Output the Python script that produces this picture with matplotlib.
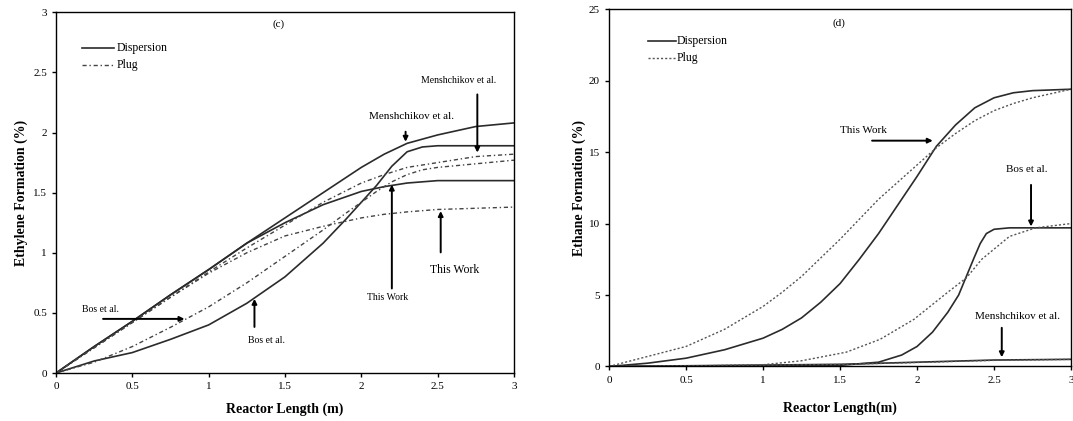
import matplotlib
matplotlib.use('Agg')
import matplotlib.pyplot as plt

plt.rcParams['font.family'] = ['Liberation Serif', 'DejaVu Serif']

# ---- panel (c): ethylene formation ----
c_x = [0, 0.25, 0.5, 0.75, 1.0, 1.25, 1.5, 1.75, 2.0, 2.15, 2.3, 2.5, 2.75, 3.0]
c_mensh_disp = [0, 0.22, 0.43, 0.65, 0.86, 1.08, 1.29, 1.50, 1.71, 1.82, 1.91, 1.98, 2.05, 2.08]
c_mensh_plug = [0, 0.21, 0.42, 0.63, 0.84, 1.04, 1.23, 1.42, 1.58, 1.65, 1.71, 1.75, 1.80, 1.82]

c_this_disp = [0, 0.22, 0.43, 0.65, 0.86, 1.08, 1.25, 1.40, 1.51, 1.55, 1.58, 1.60, 1.60, 1.60]
c_this_plug = [0, 0.21, 0.42, 0.63, 0.83, 1.00, 1.14, 1.22, 1.29, 1.32, 1.34, 1.36, 1.37, 1.38]

c_bos_x = [0, 0.25, 0.5, 0.75, 1.0, 1.25, 1.5, 1.75, 1.9, 2.0, 2.1, 2.2, 2.3, 2.4, 2.5, 3.0]
c_bos_disp = [0, 0.10, 0.17, 0.28, 0.40, 0.58, 0.80, 1.08, 1.28, 1.42, 1.56, 1.72, 1.84, 1.88, 1.89, 1.89]
c_bos_plug = [0, 0.09, 0.22, 0.38, 0.55, 0.75, 0.97, 1.19, 1.33, 1.42, 1.51, 1.59, 1.65, 1.69, 1.71, 1.77]

# ---- panel (d): ethane formation ----
d_this_x = [0, 0.25, 0.5, 0.75, 1.0, 1.125, 1.25, 1.375, 1.5, 1.625, 1.75, 1.875,
            2.0, 2.125, 2.25, 2.375, 2.5, 2.625, 2.75, 3.0]
d_this_disp = [0, 0.23, 0.58, 1.17, 1.98, 2.6, 3.4, 4.5, 5.8, 7.5, 9.3, 11.3,
               13.3, 15.4, 16.9, 18.1, 18.8, 19.15, 19.3, 19.4]
d_this_plug = [0, 0.7, 1.4, 2.6, 4.2, 5.2, 6.3, 7.6, 8.9, 10.3, 11.7, 12.9,
               14.1, 15.3, 16.3, 17.2, 17.9, 18.4, 18.8, 19.4]

d_bos_dx = [0, 1.0, 1.5, 1.75, 1.9, 2.0, 2.1, 2.2, 2.27, 2.32, 2.37, 2.41, 2.45, 2.5, 2.6, 3.0]
d_bos_disp = [0, 0.02, 0.08, 0.3, 0.8, 1.4, 2.4, 3.8, 5.0, 6.3, 7.6, 8.6, 9.3, 9.6, 9.7, 9.7]
d_bos_px = [0, 0.5, 1.0, 1.25, 1.54, 1.76, 1.98, 2.2, 2.32, 2.42, 2.6, 2.77, 3.0]
d_bos_plug = [0, 0.03, 0.12, 0.4, 1.0, 1.9, 3.3, 5.2, 6.2, 7.5, 9.1, 9.7, 10.0]

d_mensh_x = [0, 0.5, 1.0, 1.5, 2.0, 2.5, 3.0]
d_mensh_disp = [0, 0.05, 0.1, 0.15, 0.3, 0.45, 0.5]
d_mensh_plug = [0, 0.04, 0.09, 0.14, 0.28, 0.43, 0.5]

solid_kw = dict(color='#2b2b2b', lw=1.2)
plug_c_kw = dict(color='#444444', lw=1.0, linestyle=(0, (3, 2, 1, 2)))
plug_d_kw = dict(color='#555555', lw=1.0, linestyle=(0, (1.5, 1.5)))
arrow_kw = dict(arrowstyle='-|>', color='k', lw=1.4, mutation_scale=7)

fig = plt.figure(figsize=(10.73, 4.21), dpi=100)
ax1 = fig.add_axes([0.0522, 0.114, 0.4268, 0.8568])
ax2 = fig.add_axes([0.5676, 0.1295, 0.4306, 0.8487])

# panel (c)
ax1.plot(c_x, c_mensh_disp, **solid_kw)
ax1.plot(c_x, c_this_disp, **solid_kw)
ax1.plot(c_bos_x, c_bos_disp, **solid_kw)
ax1.plot(c_x, c_mensh_plug, **plug_c_kw)
ax1.plot(c_x, c_this_plug, **plug_c_kw)
ax1.plot(c_bos_x, c_bos_plug, **plug_c_kw)
ax1.set_xlim(0, 3)
ax1.set_ylim(0, 3)
ax1.set_xticks([0, 0.5, 1, 1.5, 2, 2.5, 3])
ax1.set_xticklabels(['0', '0.5', '1', '1.5', '2', '2.5', '3'])
ax1.set_yticks([0, 0.5, 1, 1.5, 2, 2.5, 3])
ax1.set_yticklabels(['0', '0.5', '1', '1.5', '2', '2.5', '3'])
ax1.set_xlabel('Reactor Length (m)', fontsize=10, fontweight='bold', labelpad=8)
ax1.set_ylabel('Ethylene Formation (%)', fontsize=10, fontweight='bold', labelpad=4)
ax1.text(1.46, 2.9, '(c)', fontsize=8, ha='center', va='center')

ax1.plot([0.17, 0.38], [2.70, 2.70], **solid_kw)
ax1.text(0.40, 2.70, 'Dispersion', fontsize=8.5, va='center')
ax1.plot([0.17, 0.38], [2.56, 2.56], **plug_c_kw)
ax1.text(0.40, 2.56, 'Plug', fontsize=8.5, va='center')

ax1.annotate('', xy=(2.29, 1.90), xytext=(2.29, 2.03), arrowprops=arrow_kw)
ax1.text(2.33, 2.13, 'Menshchikov et al.', fontsize=8, ha='center', va='center')
ax1.annotate('', xy=(2.76, 1.81), xytext=(2.76, 2.34), arrowprops=arrow_kw)
ax1.text(2.64, 2.43, 'Menshchikov et al.', fontsize=7, ha='center', va='center')
ax1.annotate('', xy=(2.20, 1.59), xytext=(2.20, 0.68), arrowprops=arrow_kw)
ax1.text(2.17, 0.63, 'This Work', fontsize=7, ha='center', va='center')
ax1.annotate('', xy=(2.52, 1.37), xytext=(2.52, 0.98), arrowprops=arrow_kw)
ax1.text(2.61, 0.86, 'This Work', fontsize=8.5, ha='center', va='center')
ax1.annotate('', xy=(0.86, 0.45), xytext=(0.29, 0.45), arrowprops=arrow_kw)
ax1.text(0.29, 0.53, 'Bos et al.', fontsize=7, ha='center', va='center')
ax1.annotate('', xy=(1.30, 0.64), xytext=(1.30, 0.36), arrowprops=arrow_kw)
ax1.text(1.38, 0.27, 'Bos et al.', fontsize=7, ha='center', va='center')

# panel (d)
ax2.plot(d_this_x, d_this_disp, **solid_kw)
ax2.plot(d_bos_dx, d_bos_disp, **solid_kw)
ax2.plot(d_mensh_x, d_mensh_disp, **solid_kw)
ax2.plot(d_this_x, d_this_plug, **plug_d_kw)
ax2.plot(d_bos_px, d_bos_plug, **plug_d_kw)
ax2.plot(d_mensh_x, d_mensh_plug, **plug_d_kw)
ax2.set_xlim(0, 3)
ax2.set_ylim(0, 25)
ax2.set_xticks([0, 0.5, 1, 1.5, 2, 2.5, 3])
ax2.set_xticklabels(['0', '0.5', '1', '1.5', '2', '2.5', '3'])
ax2.set_yticks([0, 5, 10, 15, 20, 25])
ax2.set_xlabel('Reactor Length(m)', fontsize=10, fontweight='bold', labelpad=12)
ax2.set_ylabel('Ethane Formation (%)', fontsize=10, fontweight='bold', labelpad=2)
ax2.text(1.49, 24.0, '(d)', fontsize=8, ha='center', va='center')

ax2.plot([0.25, 0.435], [22.8, 22.8], **solid_kw)
ax2.text(0.44, 22.8, 'Dispersion', fontsize=8.5, va='center')
ax2.plot([0.25, 0.435], [21.6, 21.6], **plug_d_kw)
ax2.text(0.44, 21.6, 'Plug', fontsize=8.5, va='center')

ax2.annotate('', xy=(2.12, 15.8), xytext=(1.69, 15.8), arrowprops=arrow_kw)
ax2.text(1.65, 16.5, 'This Work', fontsize=8, ha='center', va='center')
ax2.annotate('', xy=(2.74, 9.6), xytext=(2.74, 12.9), arrowprops=arrow_kw)
ax2.text(2.71, 13.8, 'Bos et al.', fontsize=8, ha='center', va='center')
ax2.annotate('', xy=(2.55, 0.45), xytext=(2.55, 2.9), arrowprops=arrow_kw)
ax2.text(2.65, 3.5, 'Menshchikov et al.', fontsize=8, ha='center', va='center')

for ax in (ax1, ax2):
    ax.tick_params(direction='out', length=3, width=1, labelsize=8, top=False, right=False)
    for s in ax.spines.values():
        s.set_linewidth(1.0)

fig.savefig('out.png', dpi=100)
